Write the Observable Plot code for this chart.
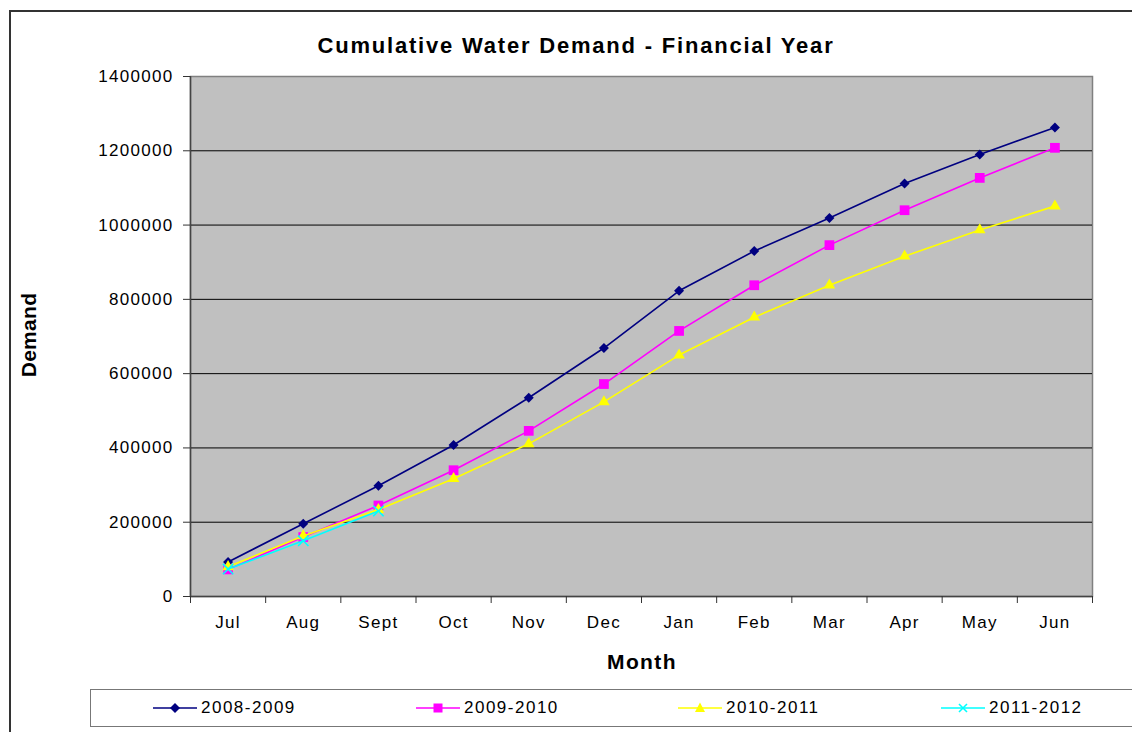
<!DOCTYPE html>
<html>
<head>
<meta charset="utf-8">
<script src="https://cdn.jsdelivr.net/npm/d3@7"></script>
<script src="https://cdn.jsdelivr.net/npm/@observablehq/plot@0.6"></script>
<style>
  html, body { margin: 0; padding: 0; background: #fff; }
  #wrap { position: relative; width: 1132px; height: 732px; overflow: hidden; font-family: "Liberation Sans", Arial, sans-serif; color: #000; }
  #border { position: absolute; left: 9px; top: 10px; width: 1300px; height: 900px; border: 2px solid #333; box-sizing: border-box; }
  #chart { position: absolute; left: 0; top: 0; }
  .title { position: absolute; left: 0; width: 1152px; top: 31.5px; text-align: center; font-weight: bold; font-size: 22px; letter-spacing: 1.8px; line-height: 28px; }
  .xlabel { position: absolute; left: 542px; width: 200px; top: 648px; text-align: center; font-weight: bold; font-size: 21px; letter-spacing: 1.4px; line-height: 28px; }
  .ylabel { position: absolute; left: 29px; top: 335px; transform: translate(-50%, -50%) rotate(-90deg); font-weight: bold; font-size: 21px; letter-spacing: 0.3px; white-space: nowrap; line-height: 24px; }
  #legend { position: absolute; left: 90px; top: 689px; width: 1100px; height: 38px; border: 1.5px solid #777; box-sizing: border-box; background: #fff; }
  .entry { position: absolute; top: 0; height: 36px; }
  .entry svg { position: absolute; top: 10px; left: 0; }
  .entry span { position: absolute; left: 48px; top: 7px; font-size: 17px; letter-spacing: 1.5px; white-space: nowrap; line-height: 22px; }
</style>
</head>
<body>
<div id="wrap">
  <div id="border"></div>
  <div id="chart"></div>
  <div class="title">Cumulative Water Demand - Financial Year</div>
  <div class="ylabel">Demand</div>
  <div class="xlabel">Month</div>
  <div id="legend"></div>
</div>
<script>
// ---- data ----
const months = ["Jul", "Aug", "Sept", "Oct", "Nov", "Dec", "Jan", "Feb", "Mar", "Apr", "May", "Jun"];
const fy2008 = [93000, 196000, 298000, 408000, 535000, 669000, 823000, 930000, 1019000, 1112000, 1190000, 1263000];
const fy2009 = [73000, 160000, 245000, 340000, 446000, 572000, 715000, 838000, 946000, 1040000, 1127000, 1208000];
const fy2010 = [80000, 163000, 234000, 317000, 411000, 524000, 650000, 752000, 838000, 916000, 987000, 1051000];
const fy2011 = [74000, 150000, 230000];
const seriesNames = ["2008-2009", "2009-2010", "2010-2011", "2011-2012"];
const seriesColors = ["#000080", "#FF00FF", "#FFFF00", "#00FFFF"];
const yTicks = [0, 200000, 400000, 600000, 800000, 1000000, 1200000, 1400000];

const seriesValues = [fy2008, fy2009, fy2010, fy2011];
const symbols = ["diamond2", "square", "triangle", "times"];
const radii = [4.5, 5.5, 4.3, 4.8];

const rows = seriesValues.map((vals, s) => vals.map((v, i) => ({series: seriesNames[s], i, v})));

const marks = [
  Plot.frame({fill: "#c0c0c0", stroke: "#808080", strokeWidth: 1.5}),
  Plot.ruleY(yTicks.filter(t => t > 0 && t < 1400000), {stroke: "#000", strokeWidth: 1}),
  Plot.ruleX([-0.5], {stroke: "#444", strokeWidth: 1.5}),
  Plot.ruleY([0], {stroke: "#444", strokeWidth: 1.5}),
  Plot.axisY(yTicks, {tickSize: 7, tickPadding: 10, tickFormat: d3.format("d"), label: null, fontSize: 17, stroke: "#333"}),
  Plot.axisX(d3.range(months.length), {tickSize: 0, tickPadding: 19, tickFormat: i => months[i], label: null, fontSize: 17}),
  Plot.axisX(d3.range(months.length + 1).map(i => i - 0.5), {tickSize: 7, tickFormat: () => "", label: null, stroke: "#333"})
];
rows.forEach((data, s) => {
  marks.push(Plot.line(data, {x: "i", y: "v", stroke: seriesColors[s], strokeWidth: 1.6}));
  if (symbols[s] === "times") {
    marks.push(Plot.dot(data, {x: "i", y: "v", symbol: "times", r: radii[s], stroke: seriesColors[s], strokeWidth: 1.6}));
  } else {
    marks.push(Plot.dot(data, {x: "i", y: "v", symbol: symbols[s], r: radii[s], fill: seriesColors[s], stroke: "none"}));
  }
});

const chart = Plot.plot({
  width: 1132,
  height: 732,
  marginLeft: 190,
  marginRight: 40,
  marginTop: 76,
  marginBottom: 136,
  x: {type: "linear", domain: [-0.5, 11.5]},
  y: {domain: [0, 1400000]},
  style: {fontFamily: "'Liberation Sans', Arial, sans-serif", fontSize: "17px", letterSpacing: "1.3px", color: "#000", background: "transparent", overflow: "visible"},
  marks
});
document.getElementById("chart").appendChild(chart);

// ---- legend ----
const legend = document.getElementById("legend");
const legendX = [62, 325, 587, 850];
const symbolPaths = [
  '<path d="M22,-5L27,0L22,5L17,0Z" fill="#000080"/>',
  '<rect x="17.5" y="-4.5" width="9" height="9" fill="#FF00FF"/>',
  '<path d="M22,-5.5L27,4L17,4Z" fill="#FFFF00"/>',
  '<path d="M18,-4L26,4M26,-4L18,4" stroke="#00FFFF" stroke-width="1.6"/>'
];
seriesNames.forEach((name, s) => {
  const e = document.createElement("div");
  e.className = "entry";
  e.style.left = legendX[s] + "px";
  e.innerHTML = `<svg width="44" height="16" viewBox="0 -8 44 16"><line x1="0" x2="44" y1="0" y2="0" stroke="${seriesColors[s]}" stroke-width="1.6"/>${symbolPaths[s]}</svg><span>${name}</span>`;
  legend.appendChild(e);
});
</script>
</body>
</html>
